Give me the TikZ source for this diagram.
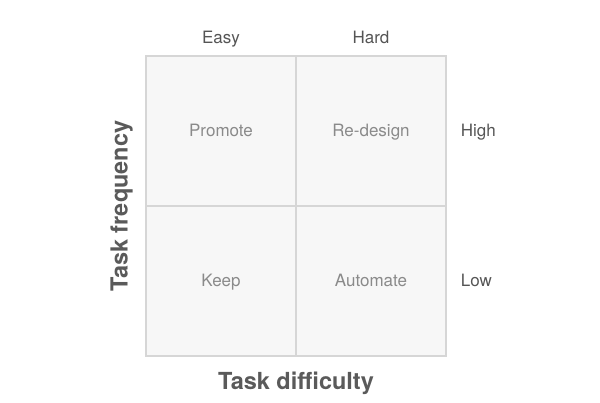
\documentclass[tikz,border=0pt]{standalone}
\usepackage{fontspec}
\setmainfont{TeX Gyre Heros}
\usepackage{xcolor}
\usetikzlibrary{positioning}
\definecolor{cellfill}{HTML}{F7F7F7}
\definecolor{cellline}{HTML}{D6D6D6}
\definecolor{celltext}{HTML}{8A8A8A}
\definecolor{labtext}{HTML}{555555}
\definecolor{axistext}{HTML}{5A5A5A}

\begin{document}
\begin{tikzpicture}[x=1pt, y=-1pt,
    cell/.style={draw=cellline, fill=cellfill, line width=1.2pt, minimum size=150pt,
                 inner sep=0pt, text=celltext, text height=12pt, text depth=0pt,
                 font=\fontsize{17}{19}\selectfont},
    lab/.style={text=labtext, inner sep=0pt, text height=12pt, text depth=0pt,
                font=\fontsize{17}{19}\selectfont},
    axis/.style={text=axistext, inner sep=0pt, text height=17pt, text depth=0pt,
                 font=\fontsize{23.5}{26}\selectfont\bfseries}]
  \useasboundingbox (0,0) rectangle (600,403);
  % quadrants
  \node[cell] (promote)  at (221,131) {Promote};
  \node[cell] (redesign) at (371,131) {Re-design};
  \node[cell] (keep)     at (221,281) {Keep};
  \node[cell] (automate) at (371,281) {Automate};
  % column and row labels
  \node[lab] (easy) at (promote.north)  [yshift=18pt] {Easy};
  \node[lab] (hard) at (redesign.north) [yshift=18pt] {Hard};
  \node[lab, right=14pt of redesign] (high) {High};
  \node[lab, right=14pt of automate] (low)  {Low};
  % axis titles
  \node[axis, rotate=90] (freq) at (119,206) {Task frequency};
  \node[axis] (diff) at (296,381) {Task difficulty};
\end{tikzpicture}
\end{document}
